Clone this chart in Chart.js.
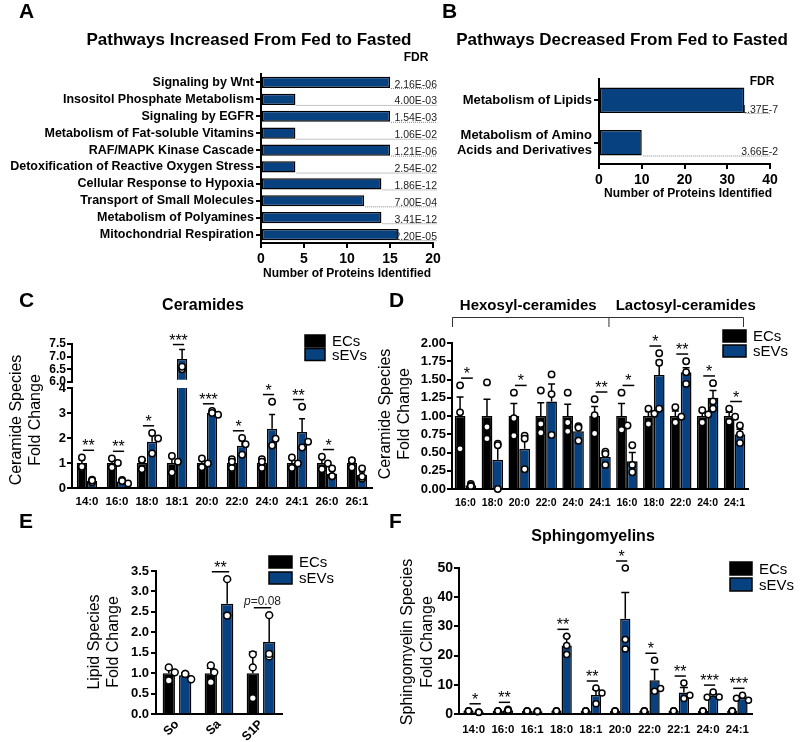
<!DOCTYPE html>
<html><head><meta charset="utf-8">
<script src="https://cdn.jsdelivr.net/npm/chart.js@4/dist/chart.umd.min.js"></script>
<style>
body{margin:0;background:#fff;}
#wrap{position:relative;width:800px;height:742px;overflow:hidden;background:#fff;}
canvas{position:absolute;}
</style></head><body><div id="wrap"></div>
<script>
// ---------------- DATA ----------------
const pathwaysUp = ['Signaling by Wnt','Insositol Phosphate Metabolism','Signaling by EGFR','Metabolism of Fat-soluble Vitamins','RAF/MAPK Kinase Cascade','Detoxification of Reactive Oxygen Stress','Cellular Response to Hypoxia','Transport of Small Molecules','Metabolism of Polyamines','Mitochondrial Respiration'];
const proteinsUp = [15,4,15,4,15,4,14,12,14,16];
const fdrUp = ['2.16E-06','4.00E-03','1.54E-03','1.06E-02','1.21E-06','2.54E-02','1.86E-12','7.00E-04','3.41E-12','2.20E-05'];
const pathwaysDown = ['Metabolism of Lipids',['Metabolism of Amino','Acids and Derivatives']];
const proteinsDown = [34,10];
const fdrDown = ['1.37E-7','3.66E-2'];
const proteinTicksUp = [0,5,10,15,20];
const proteinTicksDown = [0,10,20,30,40];

const groups = ['ECs','sEVs'];

const cerLabels = ['14:0','16:0','18:0','18:1','20:0','22:0','24:0','24:1','26:0','26:1'];
const cerECs = [1,1,1,1,1,1,1,1,1,1];
const cerECsErr = [0.13,0.11,0.12,0.19,0.1,0.1,0.1,0.12,0.14,0.08];
const cerSEVs = [0.29,0.26,1.85,6.9,3.0,1.69,2.37,2.24,0.57,0.52];
const cerSEVsErr = [0.05,0.07,0.25,0.38,0.07,0.2,0.57,0.53,0.12,0.12];
const cerECsPts = [[1.22,0.8,0.85],[1.18,0.82,1.0],[1.12,0.75,1.13],[1.28,1.05,0.62],[1.18,0.83,0.98],[1.15,0.8,1.05],[1.15,0.8,1.05],[1.22,0.8,0.98],[1.25,0.75,0.98],[1.1,1.1,0.82]];
const cerSEVsPts = [[0.33,0.23,0.3],[0.32,0.18,0.28],[2.2,1.98,1.38],[6.5,6.6,7.6],[3.08,2.93,3.0],[1.33,2.0,1.75],[3.45,1.7,1.97],[3.25,1.62,1.85],[0.78,0.47,0.47],[0.78,0.37,0.45]];
const cerSig = ['**','**','*','***','***','*','*','**','*',''];
const cerTicksLow = [0,1,2,3,4];
const cerTicksHigh = [6.0,6.5,7.0,7.5];

const hexLacLabels = ['16:0','18:0','20:0','22:0','24:0','24:1','16:0','18:0','22:0','24:0','24:1'];
const hexLacECs = [1,1,1,1,1,1,1,1,1,1,1];
const hexLacECsErr = [0.26,0.23,0.17,0.18,0.16,0.13,0.17,0.06,0.07,0.06,0.05];
const hexLacSEVs = [0.05,0.4,0.55,1.2,0.79,0.44,0.38,1.56,1.6,1.25,0.75];
const hexLacSEVsErr = [0.01,0.21,0.14,0.24,0.06,0.05,0.12,0.2,0.06,0.1,0.07];
const hexLacECsPts = [[1.42,1.05,0.55],[1.46,0.85,0.69],[1.32,0.97,0.73],[1.35,0.89,0.77],[1.32,0.91,0.79],[1.23,1.01,0.76],[1.32,0.81,0.87],[1.1,1.03,0.89],[1.12,0.91,0.99],[1.08,0.91,1.02],[1.1,0.92,0.99]];
const hexLacSEVsPts = [[0.07,0.05,0.04],[0.62,0.6,0.0],[0.73,0.69,0.27],[1.57,1.3,0.74],[0.86,0.84,0.66],[0.51,0.48,0.33],[0.6,0.23,0.33],[1.86,1.73,1.1],[1.75,1.6,1.44],[1.45,1.1,1.2],[0.87,0.75,0.63]];
const hexLacSig = ['*','','*','','','**','*','*','**','*','*'];
const hexLacHeaders = ['Hexosyl-ceramides','Lactosyl-ceramides'];

const lipidLabels = ['So','Sa','S1P'];
const lipidECs = [1,1,1];
const lipidECsErr = [0.1,0.12,0.52];
const lipidSEVs = [0.95,2.7,1.76];
const lipidSEVsErr = [0.05,0.58,0.66];
const lipidECsPts = [[1.14,1.02,0.82],[1.19,1.02,0.78],[1.46,1.14,0.39]];
const lipidSEVsPts = [[0.98,0.98,0.85],[3.3,2.41,2.41],[2.42,1.41,1.47]];
const lipidSig = ['','**','p=0.08'];

const smLabels = ['14:0','16:0','16:1','18:0','18:1','20:0','22:0','22:1','24:0','24:1'];
const smECs = [1,1,1,1,1,1,1,1,1,1];
const smECsErr = [0.1,0.1,0.1,0.1,0.1,0.1,0.1,0.1,0.1,0.1];
const smSEVs = [0.6,1.3,0.9,23.5,6.5,32.6,11.6,7.4,6.3,5.5];
const smSEVsErr = [0.1,0.3,0.1,3.1,2.0,9.0,3.6,1.7,0.7,0.6];
const smECsPts = [[1.1,0.9,1.0],[1.1,0.9,1.0],[1.1,0.9,1.0],[1.1,0.9,1.0],[1.1,0.9,1.0],[1.1,0.9,1.0],[1.1,0.9,1.0],[1.1,0.9,1.0],[1.1,0.9,1.0],[1.1,0.9,1.0]];
const smSEVsPts = [[0.7,0.5,0.6],[1.6,1.0,1.3],[1.0,0.8,0.9],[26.6,23.5,20.4],[8.9,7.2,3.5],[50,25.5,22.3],[18.4,7.8,8.7],[10.6,5.3,6.4],[7.5,5.8,5.7],[6.4,4.7,5.4]];
const smSig = ['*','**','','**','**','*','*','**','***','***'];

// ---------------- STYLE ----------------
const BLUE = '#08417f';
const FF = "'Liberation Sans', Arial, Helvetica, sans-serif";
Chart.defaults.font.family = FF;
Chart.defaults.color = '#000';
const wrap = document.getElementById('wrap');

function txt(ctx, s, x, y, font, align, base, color){
  ctx.save();
  ctx.font = font; ctx.textAlign = align || 'center'; ctx.textBaseline = base || 'alphabetic';
  ctx.fillStyle = color || '#000';
  ctx.fillText(s, x, y);
  ctx.restore();
}
function vtxt(ctx, s, x, y, font){
  ctx.save();
  ctx.translate(x, y); ctx.rotate(-Math.PI/2);
  ctx.font = font; ctx.textAlign = 'center'; ctx.textBaseline = 'middle'; ctx.fillStyle = '#000';
  ctx.fillText(s, 0, 0);
  ctx.restore();
}
function legendBoxes(ctx, chart, x, y, bw, bh, gap, fs){
  chart.data.datasets.forEach((ds, i) => {
    const yy = y + i*(bh+gap);
    ctx.save();
    ctx.fillStyle = ds.backgroundColor; ctx.fillRect(x, yy, bw, bh);
    ctx.strokeStyle = '#000'; ctx.lineWidth = 1.5; ctx.strokeRect(x, yy, bw, bh);
    ctx.restore();
    txt(ctx, ds.label, x+bw+7, yy+bh/2+1, fs+'px '+FF, 'left', 'middle');
  });
}

// every chart canvas covers a page region "box"; the extras callback draws in page coordinates
function mk(box, area, cfg, draw){
  const c = document.createElement('canvas');
  c.width = box.w; c.height = box.h;
  c.style.left = box.x+'px'; c.style.top = box.y+'px';
  c.style.width = box.w+'px'; c.style.height = box.h+'px';
  wrap.appendChild(c);
  const o = cfg.options;
  o.responsive = false; o.animation = false; o.devicePixelRatio = 1;
  o.plugins = Object.assign({legend:{display:false}, tooltip:{enabled:false}}, o.plugins||{});
  const xShown = o.scales.x.display !== false;
  o.layout = {padding:{top: area.top-box.y, right: box.x+box.w-area.right, left: 0, bottom: xShown ? 0 : box.y+box.h-area.bottom}};
  if (xShown) o.scales.x.afterFit = s => { s.height = box.y+box.h-area.bottom; };
  o.scales.y.afterFit = s => { s.width = area.left-box.x; };
  cfg.plugins = [{id:'extras', afterDraw(chart){
    const ctx = chart.ctx; ctx.save(); ctx.translate(-box.x, -box.y);
    draw(chart, ctx, box); ctx.restore();
  }}];
  return new Chart(c, cfg);
}

function axisOpts(extra){
  return Object.assign({
    grid:{display:true, drawOnChartArea:false, drawTicks:true, tickLength:5, color:'#000', lineWidth:2, offset:false},
    border:{display:true, color:'#000', width:2}
  }, extra);
}
function catX(size, padding, extra){
  return Object.assign({type:'category', grid:{display:false, drawTicks:false}, border:{display:true, color:'#000', width:2},
    ticks:{font:{size:size, weight:'bold'}, padding:padding, autoSkip:false, maxRotation:0, minRotation:0}}, extra||{});
}
function linY(ticksArr, size, padding, fmt){
  return axisOpts({type:'linear', min:ticksArr[0], max:ticksArr[ticksArr.length-1],
    afterBuildTicks: s => { s.ticks = ticksArr.map(v => ({value:v})); },
    ticks:{font:{size:size, weight:'bold'}, padding:padding, autoSkip:false, callback: fmt || (v => String(v))}});
}

// grouped bar extras: error bars, dots, significance
function groupExtras(chart, ctx, box, spec){
  ctx.save(); ctx.translate(box.x, box.y);   // back to canvas coordinates
  const ys = chart.scales.y, ca = chart.chartArea;
  const yMin = ys.min, yMax = ys.max;
  const metas = [chart.getDatasetMeta(0), chart.getDatasetMeta(1)];
  const means = [chart.data.datasets[0].data, chart.data.datasets[1].data];
  const R = spec.r || 3.2, cw = spec.cap || 3.5;
  const ct = spec.clipTop == null ? 5 : spec.clipTop, cb = spec.clipBottom == null ? 6 : spec.clipBottom;
  ctx.save();
  ctx.beginPath(); ctx.rect(ca.left-8, ca.top-ct, ca.right-ca.left+16, ca.bottom-ca.top+ct+cb); ctx.clip();
  ctx.strokeStyle = '#000'; ctx.lineWidth = 1.5;
  for (let d=0; d<2; d++){
    metas[d].data.forEach((el, j) => {
      const m = means[d][j], e = spec.err[d][j];
      const y0 = ys.getPixelForValue(m), y1 = ys.getPixelForValue(m+e);
      if (m+e > yMax) return;
      ctx.beginPath(); ctx.moveTo(el.x, Math.min(y0, ca.bottom)); ctx.lineTo(el.x, y1);
      ctx.moveTo(el.x-cw, y1); ctx.lineTo(el.x+cw, y1); ctx.stroke();
    });
  }
  for (let d=0; d<2; d++){
    metas[d].data.forEach((el, j) => {
      const placed = [];
      spec.pts[d][j].forEach(v => {
        if (v > yMax) return;
        const py = ys.getPixelForValue(v);
        const cands = [0, 3.5, -3.5, 6, -6];
        let off = cands[0];
        for (const c of cands){
          if (placed.every(p => Math.hypot(p[0]-c, p[1]-py) >= 2*R+0.5)) { off = c; break; }
        }
        placed.push([off, py]);
        ctx.beginPath(); ctx.arc(el.x+off, py, R, 0, Math.PI*2);
        ctx.fillStyle = '#fff'; ctx.fill(); ctx.stroke();
      });
    });
  }
  ctx.restore();
  spec.sig.forEach((s, j) => {
    if (!s) return;
    const errTops = [means[0][j]+spec.err[0][j], means[1][j]+spec.err[1][j]];
    if (Math.max(...errTops) > yMax) return;
    const ptsAll = spec.pts[0][j].concat(spec.pts[1][j]).filter(v => v <= yMax);
    const topErr = Math.max(...errTops), topPt = Math.max(...ptsAll);
    if (Math.max(topErr, topPt) < yMin) return;
    const yl = Math.min(ys.getPixelForValue(topErr)-1, ys.getPixelForValue(topPt)-R) - (spec.gap || 4);
    const x0 = metas[0].data[j].x, x1 = metas[1].data[j].x;
    ctx.save(); ctx.strokeStyle = '#000'; ctx.lineWidth = 1.5;
    ctx.beginPath(); ctx.moveTo(x0+1, yl); ctx.lineTo(x1+2, yl); ctx.stroke(); ctx.restore();
    const xc = (x0+x1)/2 + 1.5;
    if (s.startsWith('p=')){
      const f1 = 'italic 12px '+FF, f2 = '12px '+FF;
      ctx.save();
      ctx.font = f1; const w1 = ctx.measureText('p').width;
      ctx.font = f2; const w2 = ctx.measureText(s.slice(1)).width;
      ctx.restore();
      const xs = xc - (w1+w2)/2;
      txt(ctx, 'p', xs, yl-3, f1, 'left', 'alphabetic', '#222');
      txt(ctx, s.slice(1), xs+w1, yl-3, f2, 'left', 'alphabetic', '#222');
    } else {
      txt(ctx, s, xc, yl+1, (spec.starSize||16)+'px '+FF, 'center', 'alphabetic');
    }
  });
  ctx.restore();
}

function barDs(label, data, color, extra){
  return Object.assign({label, data, backgroundColor: color, borderColor:'#000', borderWidth:1.5}, extra||{});
}

function fdrMarks(chart, ctx, box, labels, lineEnd, textRight){
  const meta = chart.getDatasetMeta(0);
  meta.data.forEach((el, i) => {
    const yb = el.y + el.height/2 + box.y, xe = el.x + box.x;
    ctx.save(); ctx.strokeStyle = '#888'; ctx.lineWidth = 1; ctx.setLineDash([1,1]);
    ctx.beginPath(); ctx.moveTo(xe+1, yb+0.5); ctx.lineTo(lineEnd, yb+0.5); ctx.stroke(); ctx.restore();
    txt(ctx, labels[i], textRight, yb-0.5, '10.5px '+FF, 'right', 'alphabetic', '#222');
  });
}

// ---------------- PANEL A ----------------
mk({x:0,y:0,w:448,h:280}, {left:261, top:74, right:433, bottom:243}, {
  type:'bar',
  data:{labels: pathwaysUp, datasets:[barDs('Number of Proteins Identified', proteinsUp, BLUE, {borderSkipped:false, barPercentage:0.66, categoryPercentage:1})]},
  options:{indexAxis:'y', scales:{
    x: linY(proteinTicksUp, 14, 3),
    y: axisOpts({type:'category', ticks:{font:{size:12.5, weight:'bold'}, padding:2, autoSkip:false}})
  }}
}, (chart, ctx, box) => {
  fdrMarks(chart, ctx, box, fdrUp, 437, 437);
  txt(ctx, 'FDR', 416, 61, 'bold 12px '+FF);
  txt(ctx, 'Pathways Increased From Fed to Fasted', 249, 45, 'bold 17px '+FF);
  txt(ctx, 'Number of Proteins Identified', 347, 277, 'bold 12px '+FF);
  txt(ctx, 'A', 19, 18, 'bold 21px '+FF, 'left');
});

// ---------------- PANEL B ----------------
mk({x:440,y:0,w:360,h:200}, {left:599, top:79, right:770, bottom:164}, {
  type:'bar',
  data:{labels: pathwaysDown, datasets:[barDs('Number of Proteins Identified', proteinsDown, BLUE, {borderSkipped:false, barPercentage:0.6, categoryPercentage:1})]},
  options:{indexAxis:'y', scales:{
    x: linY(proteinTicksDown, 14, 3),
    y: axisOpts({type:'category', ticks:{font:{size:13, weight:'bold'}, padding:2, autoSkip:false}})
  }}
}, (chart, ctx, box) => {
  fdrMarks(chart, ctx, box, fdrDown, 770, 778);
  txt(ctx, 'FDR', 762, 85, 'bold 12px '+FF);
  txt(ctx, 'Pathways Decreased From Fed to Fasted', 622, 45, 'bold 17px '+FF);
  txt(ctx, 'Number of Proteins Identified', 688, 197, 'bold 12px '+FF);
  txt(ctx, 'B', 442, 18, 'bold 21px '+FF, 'left');
});

// ---------------- PANEL C (broken axis: two charts) ----------------
const cerSpec = {err:[cerECsErr, cerSEVsErr], pts:[cerECsPts, cerSEVsPts], sig:cerSig, cap:3};
function cerData(clipB){
  const clip = {left:0, right:0, top:0, bottom:clipB};
  return {labels: cerLabels, datasets:[
    barDs(groups[0], cerECs, '#000', {clip:clip, categoryPercentage:0.68, barPercentage:1}),
    barDs(groups[1], cerSEVs, BLUE, {clip:clip, categoryPercentage:0.68, barPercentage:1})]};
}
mk({x:0,y:280,w:380,h:232}, {left:72, top:388, right:372, bottom:488}, {
  type:'bar', data: cerData(0),
  options:{scales:{ x: catX(11.5, 7), y: linY(cerTicksLow, 13, 1) }}
}, (chart, ctx, box) => {
  groupExtras(chart, ctx, box, Object.assign({clipTop:0}, cerSpec));
  txt(ctx, 'Ceramides', 203, 310, 'bold 16px '+FF);
  txt(ctx, 'C', 19, 307, 'bold 21px '+FF, 'left');
  vtxt(ctx, 'Ceramide Species', 17, 420, '16px '+FF);
  vtxt(ctx, 'Fold Change', 36, 420, '16px '+FF);
  legendBoxes(ctx, chart, 305, 335, 20, 12, 1.5, 15);
});
mk({x:0,y:300,w:380,h:90}, {left:72, top:344, right:372, bottom:382}, {
  type:'bar', data: cerData(-2),
  options:{scales:{ x: catX(11, 7, {display:false}), y: linY(cerTicksHigh, 12, 1, v => v.toFixed(1)) }}
}, (chart, ctx, box) => {
  groupExtras(chart, ctx, box, Object.assign({clipBottom:-2, clipTop:0}, cerSpec));
});

// ---------------- PANEL D ----------------
const dTicks = [0,0.25,0.5,0.75,1,1.25,1.5,1.75,2];
mk({x:370,y:280,w:430,h:232}, {left:452, top:343, right:748, bottom:489}, {
  type:'bar',
  data:{labels: hexLacLabels, datasets:[
    barDs(groups[0], hexLacECs, '#000', {categoryPercentage:0.8, barPercentage:1}),
    barDs(groups[1], hexLacSEVs, BLUE, {categoryPercentage:0.8, barPercentage:1})]},
  options:{scales:{ x: catX(10.5, 8), y: linY(dTicks, 13, 1, v => v.toFixed(2)) }}
}, (chart, ctx, box) => {
  groupExtras(chart, ctx, box, {err:[hexLacECsErr, hexLacSEVsErr], pts:[hexLacECsPts, hexLacSEVsPts], sig:hexLacSig, cap:3.5});
  const xs = chart.scales.x, ca = chart.chartArea;
  const xl = ca.left + box.x, xm = (xs.getPixelForValue(5)+xs.getPixelForValue(6))/2 - 5 + box.x, xr = ca.right - 5 + box.x;
  ctx.save(); ctx.strokeStyle = '#333'; ctx.lineWidth = 1;
  ctx.beginPath();
  ctx.moveTo(xl+0.5, 327); ctx.lineTo(xl+0.5, 317.5); ctx.lineTo(xr+0.5, 317.5); ctx.lineTo(xr+0.5, 327);
  ctx.moveTo(xm+0.5, 317.5); ctx.lineTo(xm+0.5, 327);
  ctx.stroke(); ctx.restore();
  txt(ctx, hexLacHeaders[0], (xl+xm)/2 - 2, 310, 'bold 15px '+FF);
  txt(ctx, hexLacHeaders[1], (xm+xr)/2 + 10, 310, 'bold 15px '+FF);
  txt(ctx, 'D', 389, 307, 'bold 21px '+FF, 'left');
  vtxt(ctx, 'Ceramide Species', 386, 414, '16px '+FF);
  vtxt(ctx, 'Fold Change', 405, 414, '16px '+FF);
  legendBoxes(ctx, chart, 723, 330, 23, 12, 3, 15);
});

// ---------------- PANEL E ----------------
const eTicks = [0,0.5,1,1.5,2,2.5,3,3.5];
mk({x:0,y:512,w:360,h:230}, {left:156, top:571, right:282, bottom:714}, {
  type:'bar',
  data:{labels: lipidLabels, datasets:[
    barDs(groups[0], lipidECs, '#000', {categoryPercentage:0.78, barPercentage:0.75}),
    barDs(groups[1], lipidSEVs, BLUE, {categoryPercentage:0.78, barPercentage:0.75})]},
  options:{scales:{
    x: catX(12.5, 3, {ticks:{font:{size:12.5, weight:'bold'}, padding:3, autoSkip:false, maxRotation:45, minRotation:45}}),
    y: linY(eTicks, 13, 2, v => v.toFixed(1))
  }}
}, (chart, ctx, box) => {
  groupExtras(chart, ctx, box, {err:[lipidECsErr, lipidSEVsErr], pts:[lipidECsPts, lipidSEVsPts], sig:lipidSig, cap:4, r:3.4});
  txt(ctx, 'E', 19, 528, 'bold 21px '+FF, 'left');
  vtxt(ctx, 'Lipid Species', 95, 642, '16px '+FF);
  vtxt(ctx, 'Fold Change', 114, 642, '16px '+FF);
  legendBoxes(ctx, chart, 269, 556, 23, 12, 4, 15);
});

// ---------------- PANEL F ----------------
const fTicks = [0,10,20,30,40,50];
mk({x:360,y:512,w:440,h:230}, {left:459, top:568, right:752, bottom:714}, {
  type:'bar',
  data:{labels: smLabels, datasets:[
    barDs(groups[0], smECs, '#000', {categoryPercentage:0.7, barPercentage:1}),
    barDs(groups[1], smSEVs, BLUE, {categoryPercentage:0.7, barPercentage:1})]},
  options:{scales:{ x: catX(11.5, 9), y: linY(fTicks, 14, 1) }}
}, (chart, ctx, box) => {
  groupExtras(chart, ctx, box, {err:[smECsErr, smSEVsErr], pts:[smECsPts, smSEVsPts], sig:smSig, cap:4, r:3});
  txt(ctx, 'Sphingomyelins', 593, 541, 'bold 16px '+FF);
  txt(ctx, 'F', 389, 528, 'bold 21px '+FF, 'left');
  vtxt(ctx, 'Sphingomyelin Species', 408, 642, '16px '+FF);
  vtxt(ctx, 'Fold Change', 428, 642, '16px '+FF);
  legendBoxes(ctx, chart, 730, 562, 22, 13, 3, 15);
});
</script></body></html>
